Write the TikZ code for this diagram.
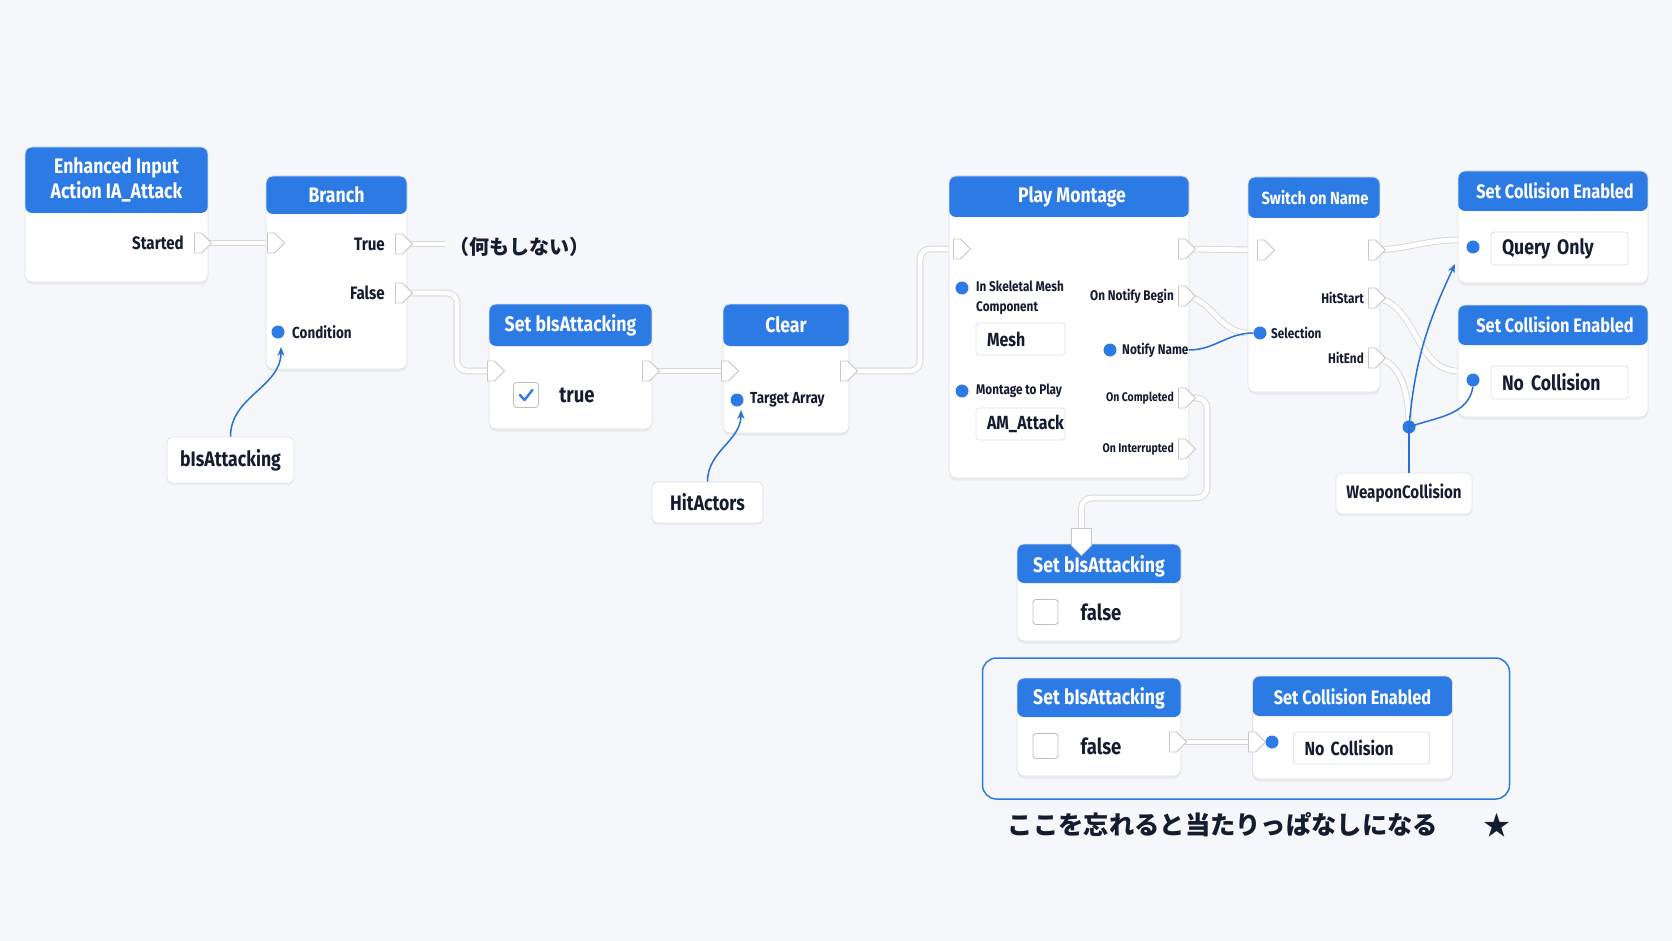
\documentclass[tikz,border=0pt]{standalone}
\usepackage{fontspec}
\setmainfont{Fira Sans}[FakeStretch=0.84]
\newfontfamily\jpfont{Noto Sans CJK JP}
\usetikzlibrary{arrows.meta, positioning, shapes.symbols, shadows}

\definecolor{bgcol}{RGB}{245,247,250}
\definecolor{hdrblue}{RGB}{44,123,229}
\definecolor{wireblue}{RGB}{38,112,214}
\definecolor{edgecol}{RGB}{222,226,232}
\definecolor{inkcol}{RGB}{20,28,48}

\newcommand{\bpHead}{\bfseries\fontsize{21}{25}\selectfont}
\newcommand{\bpHeadS}{\bfseries\fontsize{19.5}{24}\selectfont}
\newcommand{\bpLbl}{\bfseries\fontsize{18}{21}\selectfont}
\newcommand{\bpMid}{\bfseries\fontsize{16}{19}\selectfont}
\newcommand{\bpSmall}{\bfseries\fontsize{14}{20}\selectfont}
\newcommand{\bpTiny}{\bfseries\fontsize{12.5}{16}\selectfont}
\newcommand{\bpVal}{\bfseries\fontsize{22}{26}\selectfont}
\newcommand{\bpBox}{\bfseries\fontsize{19}{22}\selectfont}
\newcommand{\bpBig}{\bfseries\fontsize{21}{24}\selectfont}
\def\hdrh{40pt}

\pgfdeclarelayer{bg}
\pgfdeclarelayer{wires}
\pgfsetlayers{bg,wires,main}

\begin{document}
\begin{tikzpicture}[x=1pt, y=1pt,
  bpnode/.style={draw=edgecol, line width=0.8pt, fill=white, rounded corners=7pt, inner sep=0pt,
    drop shadow={shadow xshift=0pt, shadow yshift=-2.5pt, opacity=0.10},
    path picture={\fill[hdrblue] ([yshift=2pt]path picture bounding box.north west) rectangle ([yshift=-\hdrh]path picture bounding box.north east);}},
  hdr/.store in=\hdrh,
  varnode/.style={draw=edgecol, line width=0.8pt, fill=white, rounded corners=5pt, inner sep=0pt, text=inkcol,
    drop shadow={shadow xshift=0pt, shadow yshift=-2pt, opacity=0.08}},
  hdrtxt/.style={text=white, font=\bpHead, align=center, inner sep=0pt},
  lbl/.style={text=inkcol, font=\bpLbl, inner sep=0pt},
  smlbl/.style={text=inkcol, font=\bpSmall, inner sep=0pt, align=left},
  execpin/.style={signal, signal to=east, draw=black!22, fill=white, line width=0.8pt, minimum width=17pt, minimum height=20pt, inner sep=0pt},
  pindot/.style={circle, fill=hdrblue, minimum size=13pt, inner sep=0pt},
  valbox/.style={draw=edgecol, line width=0.8pt, fill=white, rounded corners=3pt, text=inkcol, align=left, inner xsep=11pt, inner ysep=0pt},
  chkbox/.style={draw=black!25, line width=0.9pt, fill=white, rounded corners=3pt, minimum size=25pt, inner sep=0pt},
  execwire/.style={draw=black!16, double=white, double distance=4.8pt, line width=0.9pt, rounded corners=10pt},
  datawire/.style={draw=wireblue, line width=1.5pt},
  ]
\begin{pgfonlayer}{bg}
  \fill[bgcol] (0,0) rectangle (1672,-941);
\end{pgfonlayer}

% Enhanced Input
\node[bpnode, hdr=66pt, minimum width=183pt, minimum height=135pt] (ev) at (116.5,-214.5) {};
\node[hdrtxt] (evT) at (116.5,-180) {Enhanced Input\\Action IA\_Attack};
\node[lbl, anchor=east] (evS) at (184,-243) {Started};
\node[execpin] (evOut) at (198,-243) {};

% Branch
\node[bpnode, hdr=38pt, minimum width=141pt, minimum height=193pt] (br) at (336.5,-272.5) {};
\node[hdrtxt] (brT) at (336.5,-195) {Branch};
\node[execpin] (brIn) at (271,-243) {};
\node[lbl, anchor=east] (brTrueL) at (385,-244) {True};
\node[execpin] (brTrue) at (399,-244) {};
\node[lbl, anchor=east] (brFalseL) at (385,-293) {False};
\node[execpin] (brFalse) at (399,-293) {};
\node[pindot] (brC) at (278,-332) {};
\node[lbl, font=\bpMid, anchor=west] (brCL) at (292,-332) {Condition};
\coordinate (trueEnd) at (445,-244);
\node[text=inkcol, font=\jpfont\bfseries\fontsize{20}{24}\selectfont] (nada) at (519.5,-247) {（何もしない）};

\node[varnode, font=\bpBig, minimum width=127pt, minimum height=46pt] (vb) at (230.5,-460) {bIsAttacking};

% Set bIsAttacking true
\node[bpnode, hdr=42pt, minimum width=163pt, minimum height=125pt] (s1) at (570.5,-366.5) {};
\node[hdrtxt] (s1T) at (570.5,-325) {Set bIsAttacking};
\node[execpin] (s1In) at (491,-371) {};
\node[execpin] (s1Out) at (646,-371) {};
\node[chkbox] (s1Chk) at (526,-395) {};
\draw[hdrblue, line width=2.4pt, line cap=round, line join=round] ([shift={(-6,0)}]s1Chk.center) -- ++(4.5,-5) -- ++(8,10);
\node[lbl, font=\bpVal] (s1V) at (577,-395) {true};

% Clear
\node[bpnode, hdr=42pt, minimum width=126pt, minimum height=129pt] (cl) at (786,-368.5) {};
\node[hdrtxt] (clT) at (786,-325) {Clear};
\node[execpin] (clIn) at (725,-371) {};
\node[execpin] (clOut) at (844,-371) {};
\node[pindot] (clTa) at (737,-400) {};
\node[lbl, font=\bpMid, anchor=west] (clTaL) at (750,-400) {Target Array};

\node[varnode, font=\bpBig, minimum width=111pt, minimum height=41pt] (ha) at (707.5,-502.5) {HitActors};

% Play Montage
\node[bpnode, hdr=41pt, minimum width=240pt, minimum height=302pt] (pm) at (1069,-327) {};
\node[hdrtxt] (pmT) at (1072,-197) {Play Montage};
\node[execpin] (pmIn) at (957,-249) {};
\node[execpin] (pmOut) at (1182,-249) {};
\node[pindot] (pmSk) at (962,-288) {};
\node[smlbl, anchor=west] (pmSkL) at (976,-298) {In Skeletal Mesh\\Component};
\node[valbox, font=\bpBox, text width=67pt, minimum height=32pt] (pmMesh) at (1020.5,-339) {Mesh};
\node[pindot] (pmMt) at (962,-391) {};
\node[smlbl, anchor=west] (pmMtL) at (976,-391) {Montage to Play};
\node[valbox, font=\bpBox, text width=67pt, minimum height=32pt] (pmAm) at (1020.5,-424) {AM\_Attack};
\node[smlbl, anchor=east] (pmNbL) at (1174,-296) {On Notify Begin};
\node[execpin] (pmNb) at (1182,-296) {};
\node[pindot] (pmNn) at (1110,-350) {};
\node[smlbl, anchor=west] (pmNnL) at (1122,-350) {Notify Name};
\node[smlbl, font=\bpTiny, anchor=east] (pmOcL) at (1174,-398) {On Completed};
\node[execpin] (pmOc) at (1182,-398) {};
\node[smlbl, font=\bpTiny, anchor=east] (pmOiL) at (1174,-449) {On Interrupted};
\node[execpin] (pmOi) at (1182,-449) {};

% Switch on Name
\node[bpnode, hdr=41pt, minimum width=132pt, minimum height=215pt] (sw) at (1314,-284.5) {};
\node[hdrtxt, font=\bfseries\fontsize{17.5}{21}\selectfont] (swT) at (1315,-198) {Switch on Name};
\node[execpin] (swIn) at (1261,-250) {};
\node[execpin] (swOut) at (1372,-250) {};
\node[smlbl, anchor=east] (swHsL) at (1364,-298) {HitStart};
\node[execpin] (swHs) at (1372,-298) {};
\node[pindot] (swSel) at (1260,-333) {};
\node[smlbl, anchor=west] (swSelL) at (1271,-333) {Selection};
\node[smlbl, anchor=east] (swHeL) at (1364,-358) {HitEnd};
\node[execpin] (swHe) at (1372,-358) {};

% Set Collision Enabled x2
\node[bpnode, hdr=40pt, minimum width=190pt, minimum height=112pt] (c1) at (1553,-227) {};
\node[hdrtxt, font=\bpHeadS] (c1T) at (1555,-191) {Set Collision Enabled};
\node[pindot] (c1D) at (1473,-247) {};
\node[valbox, font=\bpBig, text width=115pt, minimum height=33pt] (c1V) at (1559.5,-248.5) {Query Only};
\coordinate (c1E) at (1458,-240);
\node[bpnode, hdr=40pt, minimum width=190pt, minimum height=112pt] (c2) at (1553,-361) {};
\node[hdrtxt, font=\bpHeadS] (c2T) at (1555,-325) {Set Collision Enabled};
\node[pindot] (c2D) at (1473,-380) {};
\node[valbox, font=\bpBig, text width=115pt, minimum height=33pt] (c2V) at (1559.5,-382.5) {No Collision};
\coordinate (c2E) at (1458,-371);

\node[varnode, font=\bpLbl, minimum width=136pt, minimum height=41pt] (wc) at (1404,-493.5) {WeaponCollision};
\node[pindot] (jn) at (1409,-427) {};
\coordinate (qoArr) at (1455,-264);

% Set bIsAttacking false
\node[bpnode, hdr=39pt, minimum width=164pt, minimum height=97pt] (s2) at (1099,-592.5) {};
\node[hdrtxt] (s2T) at (1099,-566) {Set bIsAttacking};
\node[execpin, signal to=south, minimum width=20pt, minimum height=17pt] (s2In) at (1081.5,-537) {};
\node[chkbox] (s2Chk) at (1045.5,-612) {};
\node[lbl, font=\bpVal] (s2V) at (1101,-612) {false};

% highlighted group
\node[draw=hdrblue, line width=1.5pt, rounded corners=14pt, minimum width=527pt, minimum height=141pt] (grp) at (1246,-728.5) {};
\node[bpnode, hdr=39pt, minimum width=164pt, minimum height=98pt] (s3) at (1099,-727) {};
\node[hdrtxt] (s3T) at (1099,-698) {Set bIsAttacking};
\node[chkbox] (s3Chk) at (1045.5,-746) {};
\node[lbl, font=\bpVal] (s3V) at (1101,-746) {false};
\node[execpin] (s3Out) at (1173,-742) {};
\node[bpnode, hdr=40pt, minimum width=200pt, minimum height=103pt] (c3) at (1352.5,-727.5) {};
\node[hdrtxt, font=\bpHeadS] (c3T) at (1352.5,-697) {Set Collision Enabled};
\node[execpin] (c3In) at (1252,-742) {};
\node[pindot] (c3D) at (1272,-742) {};
\node[valbox, font=\bpBox, text width=114pt, minimum height=32pt] (c3V) at (1361.5,-748) {No Collision};

\node[text=inkcol, font=\jpfont\bfseries\fontsize{25.3}{29}\selectfont] (cap) at (1223,-825) {ここを忘れると当たりっぱなしになる};
\node[text=inkcol, font=\jpfont\fontsize{27}{30}\selectfont] (star) at (1496.5,-825) {★};

\begin{pgfonlayer}{wires}
  \draw[execwire] (evOut.center) -- (brIn.center);
  \draw[execwire] (brTrue.center) -- (trueEnd);
  \draw[execwire] (brFalse.center) -- ++(58,0) |- (s1In.center);
  \draw[execwire] (s1Out.center) -- (clIn.center);
  \draw[execwire] (clOut.center) -- ++(76,0) |- (pmIn.center);
  \draw[execwire] (pmOut.center) -- (swIn.center);
  \draw[execwire] (pmNb.center) to[out=0,in=180] (sw.west |- swSel.center);
  \draw[execwire] (pmOc.center) -- ++(25,0) -- ++(0,-100) -| (s2In.center);
  \draw[execwire] (swOut.center) to[out=0,in=180] (c1E);
  \draw[execwire] (swHs.center) to[out=0,in=180] (c2E);
  \draw[execwire] (swHe.center) to[out=0,in=90] (jn.center);
  \draw[execwire] (s3Out.center) -- (c3In.center);
\end{pgfonlayer}

\draw[datawire, -{Stealth[length=9pt,width=7pt]}] (vb.north) to[out=90,in=-90] (281,-347);
\draw[datawire, -{Stealth[length=9pt,width=7pt]}] (ha.north) to[out=90,in=-90] (741,-410);
\draw[datawire] (pmNnL.east) to[out=0,in=180] (swSel.west);
\draw[datawire] (wc.north -| jn) -- (jn.center);
\draw[datawire, -{Stealth[length=9pt,width=7pt]}] (jn.center) to[out=85,in=-115] (qoArr);
\draw[datawire] (jn.center) to[out=20,in=-100] (c2D.south);
\end{tikzpicture}
\end{document}
